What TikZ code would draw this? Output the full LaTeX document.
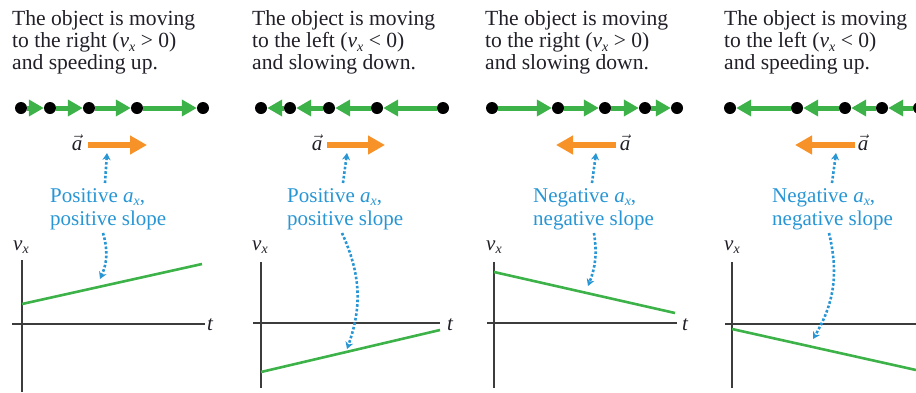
\documentclass[tikz,border=0pt]{standalone}
\usepackage{fontspec}
\setmainfont{Liberation Serif}
\usepackage{amsmath}
\usetikzlibrary{arrows.meta}
\definecolor{titleink}{RGB}{35,31,40}
\definecolor{dotgreen}{RGB}{60,178,72}
\definecolor{accorange}{RGB}{246,146,40}
\definecolor{noteblue}{RGB}{40,150,212}
\definecolor{axisgray}{RGB}{60,60,60}
\newcommand{\isub}[2]{\textit{#1}\raisebox{-0.35ex}{\fontsize{14pt}{14pt}\selectfont\textit{#2}}}
\newcommand{\vx}{\isub{v}{x}}

\begin{document}
\begin{tikzpicture}[x=1pt,y=-1pt,>=Stealth,
    every node/.style={inner sep=0pt},
    title/.style={anchor=north west,align=left,text=titleink,font=\fontsize{21.6}{22}\selectfont},
    note/.style={anchor=north west,align=left,text=noteblue,font=\fontsize{21}{23}\selectfont},
    dot/.style={circle,fill=black,minimum size=12pt},
    vstep/.style={draw=dotgreen,line width=5pt,-{Triangle[length=15pt,width=16pt]}},
    accel/.style={draw=accorange,line width=6pt,-{Triangle[length=17pt,width=18pt]}},
    hint/.style={draw=noteblue,line width=2.6pt,dotted,-{Stealth[length=7pt,width=8pt]}},
    axis/.style={draw=axisgray,line width=1.8pt},
    vline/.style={draw=dotgreen,line width=2.6pt},
    axlabel/.style={anchor=base west,text=titleink,font=\fontsize{21}{22}\selectfont}]
  \useasboundingbox (0,0) rectangle (916,392);

  % panel 1: right, speeding up
  \node[title] (t1) at (12,10.5) {The object is moving\\to the right (\vx{} > 0)\\and speeding up.};
  \node[dot] (p1a) at (21,108) {}; \node[dot] (p1b) at (50,108) {}; \node[dot] (p1c) at (89,108) {};
  \node[dot] (p1d) at (137,108) {}; \node[dot] (p1e) at (203,108) {};
  \draw[vstep] (p1a) -- (p1b); \draw[vstep] (p1b) -- (p1c);
  \draw[vstep] (p1c) -- (p1d); \draw[vstep] (p1d) -- (p1e);
  \node[text=titleink,font=\fontsize{21}{22}\selectfont] (a1) at (77,143) {$\vec{\textit{a}}$};
  \coordinate (acc1s) at (88,145); \coordinate (acc1e) at (147,145);
  \draw[accel] (acc1s) -- (acc1e);
  \node[note] (n1) at (50,188) {Positive \isub{a}{x},\\positive slope};
  \coordinate (u1s) at (105,183); \coordinate (u1e) at (107,153);
  \draw[hint] (u1s) -- (u1e);
  \draw[axis] (22,260) -- (22,392);
  \draw[axis] (12,324) -- (205,324);
  \node[axlabel] (tt1) at (207,330) {\textit{t}};
  \node[axlabel] (v1) at (13,250) {\vx};
  \coordinate (g1s) at (22,304); \coordinate (g1e) at (202,264);
  \draw[vline] (g1s) -- (g1e);
  \coordinate (l1s) at (103,233); \coordinate (l1e) at (100,279);
  \draw[hint] (l1s) to[bend left=20] (l1e);

  % panel 2: left, slowing down
  \node[title] (t2) at (252,10.5) {The object is moving\\to the left (\vx{} < 0)\\and slowing down.};
  \node[dot] (p2a) at (261,108) {}; \node[dot] (p2b) at (290,108) {}; \node[dot] (p2c) at (329,108) {};
  \node[dot] (p2d) at (377,108) {}; \node[dot] (p2e) at (443,108) {};
  \draw[vstep] (p2b) -- (p2a); \draw[vstep] (p2c) -- (p2b);
  \draw[vstep] (p2d) -- (p2c); \draw[vstep] (p2e) -- (p2d);
  \node[text=titleink,font=\fontsize{21}{22}\selectfont] (a2) at (317,143) {$\vec{\textit{a}}$};
  \coordinate (acc2s) at (327,145); \coordinate (acc2e) at (385,145);
  \draw[accel] (acc2s) -- (acc2e);
  \node[note] (n2) at (287,188) {Positive \isub{a}{x},\\positive slope};
  \coordinate (u2s) at (343,183); \coordinate (u2e) at (347,153);
  \draw[hint] (u2s) -- (u2e);
  \draw[axis] (261,262) -- (261,388);
  \draw[axis] (253,323) -- (440,323);
  \node[axlabel] (tt2) at (447,330) {\textit{t}};
  \node[axlabel] (v2) at (252,250) {\vx};
  \coordinate (g2s) at (261,372); \coordinate (g2e) at (440,330);
  \draw[vline] (g2s) -- (g2e);
  \coordinate (l2s) at (342,233); \coordinate (l2e) at (347,349);
  \draw[hint] (l2s) to[bend left=22] (l2e);

  % panel 3: right, slowing down
  \node[title] (t3) at (485,10.5) {The object is moving\\to the right (\vx{} > 0)\\and slowing down.};
  \node[dot] (p3a) at (492,108) {}; \node[dot] (p3b) at (558,108) {}; \node[dot] (p3c) at (605,108) {};
  \node[dot] (p3d) at (645,108) {}; \node[dot] (p3e) at (677,108) {};
  \draw[vstep] (p3a) -- (p3b); \draw[vstep] (p3b) -- (p3c);
  \draw[vstep] (p3c) -- (p3d); \draw[vstep] (p3d) -- (p3e);
  \node[text=titleink,font=\fontsize{21}{22}\selectfont] (a3) at (625,143) {$\vec{\textit{a}}$};
  \coordinate (acc3s) at (616,145); \coordinate (acc3e) at (556,145);
  \draw[accel] (acc3s) -- (acc3e);
  \node[note] (n3) at (533,188) {Negative \isub{a}{x},\\negative slope};
  \coordinate (u3s) at (592,183); \coordinate (u3e) at (596,153);
  \draw[hint] (u3s) -- (u3e);
  \draw[axis] (494,262) -- (494,388);
  \draw[axis] (487,323) -- (677,323);
  \node[axlabel] (tt3) at (682,330) {\textit{t}};
  \node[axlabel] (v3) at (486,250) {\vx};
  \coordinate (g3s) at (494,272); \coordinate (g3e) at (675,313);
  \draw[vline] (g3s) -- (g3e);
  \coordinate (l3s) at (594,233); \coordinate (l3e) at (588,286);
  \draw[hint] (l3s) to[bend left=15] (l3e);

  % panel 4: left, speeding up
  \node[title] (t4) at (724,10.5) {The object is moving\\to the left (\vx{} < 0)\\and speeding up.};
  \node[dot] (p4a) at (730,108) {}; \node[dot] (p4b) at (797,108) {}; \node[dot] (p4c) at (845,108) {};
  \node[dot] (p4d) at (882,108) {}; \node[dot] (p4e) at (919,108) {};
  \draw[vstep] (p4b) -- (p4a); \draw[vstep] (p4c) -- (p4b);
  \draw[vstep] (p4d) -- (p4c); \draw[vstep] (p4e) -- (p4d);
  \node[text=titleink,font=\fontsize{21}{22}\selectfont] (a4) at (863,143) {$\vec{\textit{a}}$};
  \coordinate (acc4s) at (855,145); \coordinate (acc4e) at (795,145);
  \draw[accel] (acc4s) -- (acc4e);
  \node[note] (n4) at (772,188) {Negative \isub{a}{x},\\negative slope};
  \coordinate (u4s) at (832,183); \coordinate (u4e) at (836,153);
  \draw[hint] (u4s) -- (u4e);
  \draw[axis] (732,262) -- (732,388);
  \draw[axis] (725,324) -- (916,324);
  \node[axlabel] (v4) at (724,250) {\vx};
  \coordinate (g4s) at (732,329); \coordinate (g4e) at (916,370);
  \draw[vline] (g4s) -- (g4e);
  \coordinate (l4s) at (829,233); \coordinate (l4e) at (813,339);
  \draw[hint] (l4s) to[bend left=22] (l4e);
\end{tikzpicture}
\end{document}
